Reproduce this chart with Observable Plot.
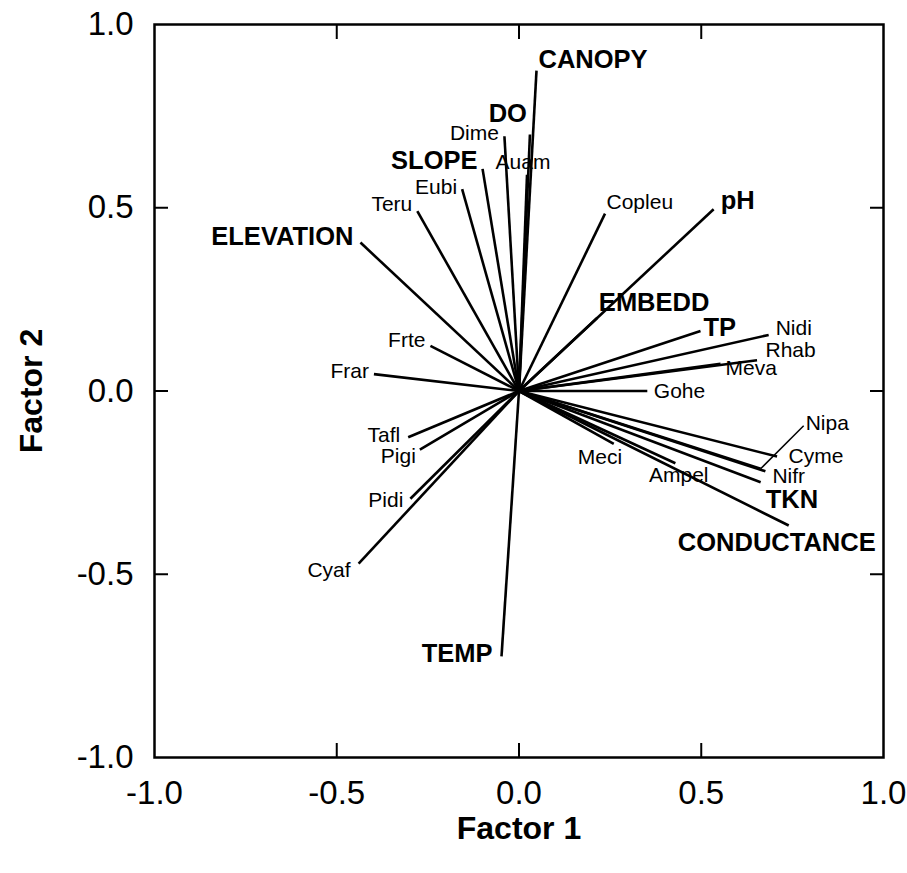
<!DOCTYPE html>
<html><head><meta charset="utf-8">
<script src="https://cdn.jsdelivr.net/npm/d3@7"></script>
<script src="https://cdn.jsdelivr.net/npm/@observablehq/plot@0.6"></script>
<style>body{margin:0;background:#fff} #chart svg{display:block}</style>
</head><body><div id="chart"></div>
<script>
// ---- data ----
const variables = ["CANOPY","DO","SLOPE","ELEVATION","pH","EMBEDD","TP","TKN","CONDUCTANCE","TEMP"];
const variableF1 = [0.048, 0.030, -0.100, -0.435, 0.534, 0.215, 0.498, 0.663, 0.740, -0.048];
const variableF2 = [0.874, 0.700, 0.606, 0.405, 0.496, 0.200, 0.164, -0.249, -0.367, -0.724];

const species = ["Dime","Auam","Eubi","Teru","Copleu","Frte","Frar","Nidi","Rhab","Meva","Gohe","Nipa","Cyme","Nifr","Ampel","Meci","Tafl","Pigi","Pidi","Cyaf"];
const speciesF1 = [-0.040, 0.022, -0.156, -0.279, 0.236, -0.243, -0.398, 0.685, 0.653, 0.553, 0.352, 0.663, 0.708, 0.676, 0.429, 0.260, -0.304, -0.272, -0.298, -0.440];
const speciesF2 = [0.695, 0.590, 0.551, 0.491, 0.484, 0.123, 0.046, 0.153, 0.084, 0.074, 0.000, -0.212, -0.179, -0.219, -0.197, -0.144, -0.126, -0.160, -0.294, -0.471];

const tickValues = [-1, -0.5, 0, 0.5, 1];
const innerTicks = [-0.5, 0, 0.5];
const xTitle = "Factor 1";
const yTitle = "Factor 2";

// ---- build table ----
const vectors = [
  ...variables.map((name, i) => ({name, f1: variableF1[i], f2: variableF2[i], kind: "variable"})),
  ...species.map((name, i) => ({name, f1: speciesF1[i], f2: speciesF2[i], kind: "species"}))
];

// ---- label layout (anchor, pixel offsets) ----
const placement = {
  CANOPY: ["start", 2, -11], DO: ["end", -3, -21], SLOPE: ["end", -5, -8],
  ELEVATION: ["end", -7, -6], pH: ["start", 7, -8], EMBEDD: ["start", 1.5, -15],
  TP: ["start", 3, -3], TKN: ["start", 5, 18], CONDUCTANCE: ["middle", -12, 17],
  TEMP: ["end", -9, -3],
  Dime: ["end", -5.5, -3.5], Auam: ["middle", -4, -12], Eubi: ["end", -5, -2],
  Teru: ["end", -5, -7], Copleu: ["start", 1.5, -11], Frte: ["end", -5, -6],
  Frar: ["end", -5, -3], Nidi: ["start", 7, -7], Rhab: ["start", 8.5, -9.5],
  Meva: ["start", 5, 4], Gohe: ["start", 6.5, 0], Nipa: ["start", 45, -45],
  Cyme: ["start", 11.5, 0], Nifr: ["start", 7, 5.5], Ampel: ["middle", 3.4, 12.4],
  Meci: ["end", 8.4, 13.5], Tafl: ["end", -8, -2], Pigi: ["end", -4, 7],
  Pidi: ["end", -7, 2], Cyaf: ["end", -8, 7]
};
const leaderFor = new Set(["Nipa"]);

const font = "'Liberation Sans', Arial, Helvetica, sans-serif";
const fmt = d => d.toFixed(1);

const labelMarks = vectors.map(d => {
  const [anchor, dx, dy] = placement[d.name];
  const bold = d.kind === "variable";
  return Plot.text([d], {
    x: "f1", y: "f2", text: "name", textAnchor: anchor, dx, dy,
    fontSize: bold ? 25.5 : 21, fontWeight: bold ? "bold" : "normal", fill: "black"
  });
});

const chart = Plot.plot({
  width: 907, height: 873,
  marginLeft: 154, marginRight: 24, marginTop: 24, marginBottom: 116,
  style: {fontFamily: font, background: "white", color: "black", overflow: "visible"},
  x: {domain: [-1, 1]},
  y: {domain: [-1, 1]},
  marks: [
    // inward ticks on all four sides
    Plot.axisX(innerTicks, {anchor: "bottom", tickSize: 14, dy: -14, fill: "none", label: null, strokeWidth: 2}),
    Plot.axisX(innerTicks, {anchor: "top", tickSize: 14, dy: 14, fill: "none", label: null, strokeWidth: 2}),
    Plot.axisY(innerTicks, {anchor: "left", tickSize: 14, dx: 14, fill: "none", label: null, strokeWidth: 2}),
    Plot.axisY(innerTicks, {anchor: "right", tickSize: 14, dx: -14, fill: "none", label: null, strokeWidth: 2}),
    // tick labels
    Plot.axisX(tickValues, {anchor: "bottom", tickSize: 0, tickPadding: 23, tickFormat: fmt, fontSize: 33, label: null}),
    Plot.axisY(tickValues, {anchor: "left", tickSize: 0, tickPadding: 21, tickFormat: fmt, fontSize: 33, label: null}),
    Plot.frame({stroke: "black", strokeWidth: 2.5}),
    // vectors
    Plot.link(vectors, {x1: () => 0, y1: () => 0, x2: "f1", y2: "f2", stroke: "black", strokeWidth: 2.6}),
    Plot.link(vectors.filter(d => leaderFor.has(d.name)), {
      x1: "f1", y1: "f2", x2: d => d.f1 + 0.118, y2: d => d.f2 + 0.117, stroke: "black", strokeWidth: 1.5
    }),
    ...labelMarks,
    // axis titles
    Plot.text([xTitle], {text: d => d, frameAnchor: "bottom", lineAnchor: "middle", textAnchor: "middle", dy: 71, fontSize: 32, fontWeight: "bold", fill: "black"}),
    Plot.text([yTitle], {text: d => d, frameAnchor: "left", lineAnchor: "middle", textAnchor: "middle", rotate: -90, dx: -123, fontSize: 32, fontWeight: "bold", fill: "black"})
  ]
});
document.getElementById("chart").appendChild(chart);
</script>
</body></html>
